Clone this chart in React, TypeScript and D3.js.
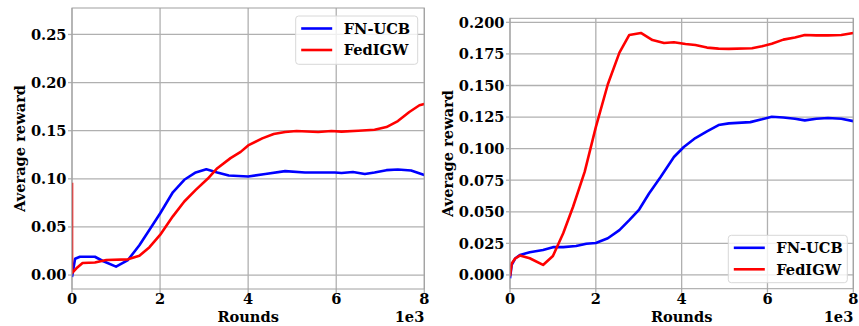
import React from "react";
import * as d3 from "d3";

// ---- Data (rounds in thousands) ----
const leftUcbX = [0, 0.07, 0.18, 0.52, 0.7, 1.0, 1.27, 1.53, 1.76, 2.0, 2.29, 2.55, 2.81, 3.05, 3.3, 3.56, 4.0, 4.39, 4.84, 5.29, 5.97, 6.12, 6.38, 6.65, 6.87, 7.14, 7.4, 7.7, 8.0];
const leftUcbY = [-0.002, 0.017, 0.019, 0.019, 0.0146, 0.0087, 0.0156, 0.031, 0.047, 0.064, 0.086, 0.099, 0.1066, 0.11, 0.1066, 0.1035, 0.1024, 0.105, 0.108, 0.1066, 0.1066, 0.106, 0.107, 0.105, 0.1066, 0.109, 0.1097, 0.1087, 0.104];
const leftIgwX = [0, 0, 0.1, 0.24, 0.52, 0.78, 1.27, 1.53, 1.76, 2.0, 2.29, 2.55, 2.81, 3.08, 3.3, 3.6, 3.83, 4.0, 4.32, 4.58, 4.84, 5.1, 5.59, 5.89, 6.12, 6.5, 6.87, 7.14, 7.4, 7.66, 7.89, 8.0];
const leftIgwY = [0.096, 0.002, 0.007, 0.0125, 0.013, 0.0156, 0.0163, 0.02, 0.029, 0.0417, 0.061, 0.0764, 0.0885, 0.1, 0.111, 0.1215, 0.128, 0.1347, 0.142, 0.1465, 0.1486, 0.1497, 0.1486, 0.1497, 0.149, 0.15, 0.151, 0.1538, 0.16, 0.1694, 0.1764, 0.1778];

const rightUcbX = [0, 0.04, 0.12, 0.23, 0.46, 0.77, 1.0, 1.24, 1.54, 1.78, 2.0, 2.28, 2.55, 2.78, 3.01, 3.24, 3.51, 3.82, 4.05, 4.32, 4.59, 4.86, 5.1, 5.6, 5.87, 6.1, 6.37, 6.64, 6.87, 7.14, 7.41, 7.72, 8.0];
const rightUcbY = [-0.0026, 0.008, 0.013, 0.0158, 0.0179, 0.0197, 0.022, 0.022, 0.0229, 0.0247, 0.0253, 0.029, 0.0355, 0.0434, 0.0518, 0.0645, 0.0776, 0.0934, 0.1013, 0.1084, 0.1137, 0.1187, 0.12, 0.121, 0.1232, 0.1253, 0.1247, 0.1237, 0.1224, 0.1237, 0.1242, 0.1237, 0.1218];
const rightIgwX = [0, 0.04, 0.12, 0.23, 0.46, 0.77, 1.0, 1.24, 1.47, 1.74, 2.0, 2.28, 2.55, 2.78, 3.05, 3.32, 3.59, 3.82, 4.09, 4.32, 4.59, 4.86, 5.1, 5.64, 5.87, 6.1, 6.37, 6.64, 6.87, 7.14, 7.41, 7.72, 8.0];
const rightIgwY = [-0.001, 0.009, 0.013, 0.0153, 0.0132, 0.0079, 0.015, 0.033, 0.054, 0.0816, 0.117, 0.151, 0.176, 0.19, 0.1916, 0.186, 0.1837, 0.1842, 0.1829, 0.1821, 0.18, 0.1792, 0.179, 0.1795, 0.181, 0.183, 0.1863, 0.188, 0.19, 0.1897, 0.1897, 0.19, 0.1916];

const xTicks = [0, 2, 4, 6, 8];
const leftYTicks = [0, 0.05, 0.1, 0.15, 0.2, 0.25];
const rightYTicks = [0, 0.025, 0.05, 0.075, 0.1, 0.125, 0.15, 0.175, 0.2];
const seriesNames = ["FN-UCB", "FedIGW"];
const seriesColors = ["#0000ff", "#ff0000"];

const FONT = "DejaVu Serif";
const FS = 14.6;

type PanelProps = {
  left: number; right: number; top: number; bottom: number;
  yDomain: [number, number]; yTicks: number[]; yDec: number;
  series: { x: number[]; y: number[] }[];
  legend: { x: number; y: number; w: number; h: number };
  yLabelX: number;
};

function Panel(p: PanelProps) {
  const x = d3.scaleLinear().domain([0, 8]).range([p.left, p.right]);
  const y = d3.scaleLinear().domain(p.yDomain).range([p.bottom, p.top]);
  const line = d3.line<[number, number]>().x(d => x(d[0])).y(d => y(d[1]));
  const clipId = `clip-${Math.round(p.left)}`;
  const grid = "#b0b0b0";
  const lg = p.legend;
  return (
    <g>
      <defs>
        <clipPath id={clipId}>
          <rect x={p.left} y={p.top} width={p.right - p.left} height={p.bottom - p.top} />
        </clipPath>
      </defs>
      {xTicks.map(t => (
        <g key={"xg" + t}>
          <line x1={x(t)} x2={x(t)} y1={p.top} y2={p.bottom} stroke={grid} strokeWidth={1.3} />
          <line x1={x(t)} x2={x(t)} y1={p.bottom} y2={p.bottom + 4} stroke={grid} strokeWidth={1.3} />
          <text x={x(t)} y={304} textAnchor="middle" fontFamily={FONT} fontWeight="bold" fontSize={FS}>{t}</text>
        </g>
      ))}
      {p.yTicks.map(t => (
        <g key={"yg" + t}>
          <line x1={p.left} x2={p.right} y1={y(t)} y2={y(t)} stroke={grid} strokeWidth={1.3} />
          <line x1={p.left - 4} x2={p.left} y1={y(t)} y2={y(t)} stroke={grid} strokeWidth={1.3} />
          <text x={p.left - 5.5} y={y(t) + 5.3} textAnchor="end" fontFamily={FONT} fontWeight="bold" fontSize={FS}>{t.toFixed(p.yDec)}</text>
        </g>
      ))}
      <g clipPath={`url(#${clipId})`}>
        {p.series.map((s, i) => (
          <path key={i} d={line(s.x.map((v, k) => [v, s.y[k]] as [number, number])) || ""} fill="none" stroke={seriesColors[i]} strokeWidth={2.6} strokeLinejoin="round" />
        ))}
      </g>
      <rect x={p.left} y={p.top} width={p.right - p.left} height={p.bottom - p.top} fill="none" stroke="#a0a0a0" strokeWidth={1} />
      <text x={(p.left + p.right) / 2} y={321.7} textAnchor="middle" fontFamily={FONT} fontWeight="bold" fontSize={FS}>Rounds</text>
      <text x={p.right} y={321.7} textAnchor="end" fontFamily={FONT} fontWeight="bold" fontSize={FS}>1e3</text>
      <text transform={`translate(${p.yLabelX},${(p.top + p.bottom) / 2}) rotate(-90)`} textAnchor="middle" fontFamily={FONT} fontWeight="bold" fontSize={FS}>Average reward</text>
      <rect x={lg.x} y={lg.y} width={lg.w} height={lg.h} rx={3} fill="#ffffff" fillOpacity={0.8} stroke="#d8d8d8" strokeWidth={1} />
      {seriesNames.map((n, i) => {
        const cy = lg.y + 12.5 + i * 21.5;
        return (
          <g key={n}>
            <line x1={lg.x + 5.5} x2={lg.x + 36.5} y1={cy} y2={cy} stroke={seriesColors[i]} strokeWidth={2.6} />
            <text x={lg.x + 48} y={cy + 5.3} fontFamily={FONT} fontWeight="bold" fontSize={FS}>{n}</text>
          </g>
        );
      })}
    </g>
  );
}

export default function App() {
  return (
    <svg width={859} height={326} style={{ position: "absolute", left: 0, top: 0, background: "#fff" }}>
      <Panel left={72} right={424.3} top={8} bottom={289} yDomain={[-0.0145, 0.2775]} yTicks={leftYTicks} yDec={2}
        series={[{ x: leftUcbX, y: leftUcbY }, { x: leftIgwX, y: leftIgwY }]}
        legend={{ x: 295.7, y: 16, w: 122, h: 48.3 }} yLabelX={25} />
      <Panel left={510} right={853.3} top={18.3} bottom={288.7} yDomain={[-0.0109, 0.2032]} yTicks={rightYTicks} yDec={3}
        series={[{ x: rightUcbX, y: rightUcbY }, { x: rightIgwX, y: rightIgwY }]}
        legend={{ x: 728.3, y: 235.3, w: 119, h: 47.4 }} yLabelX={453.4} />
    </svg>
  );
}
